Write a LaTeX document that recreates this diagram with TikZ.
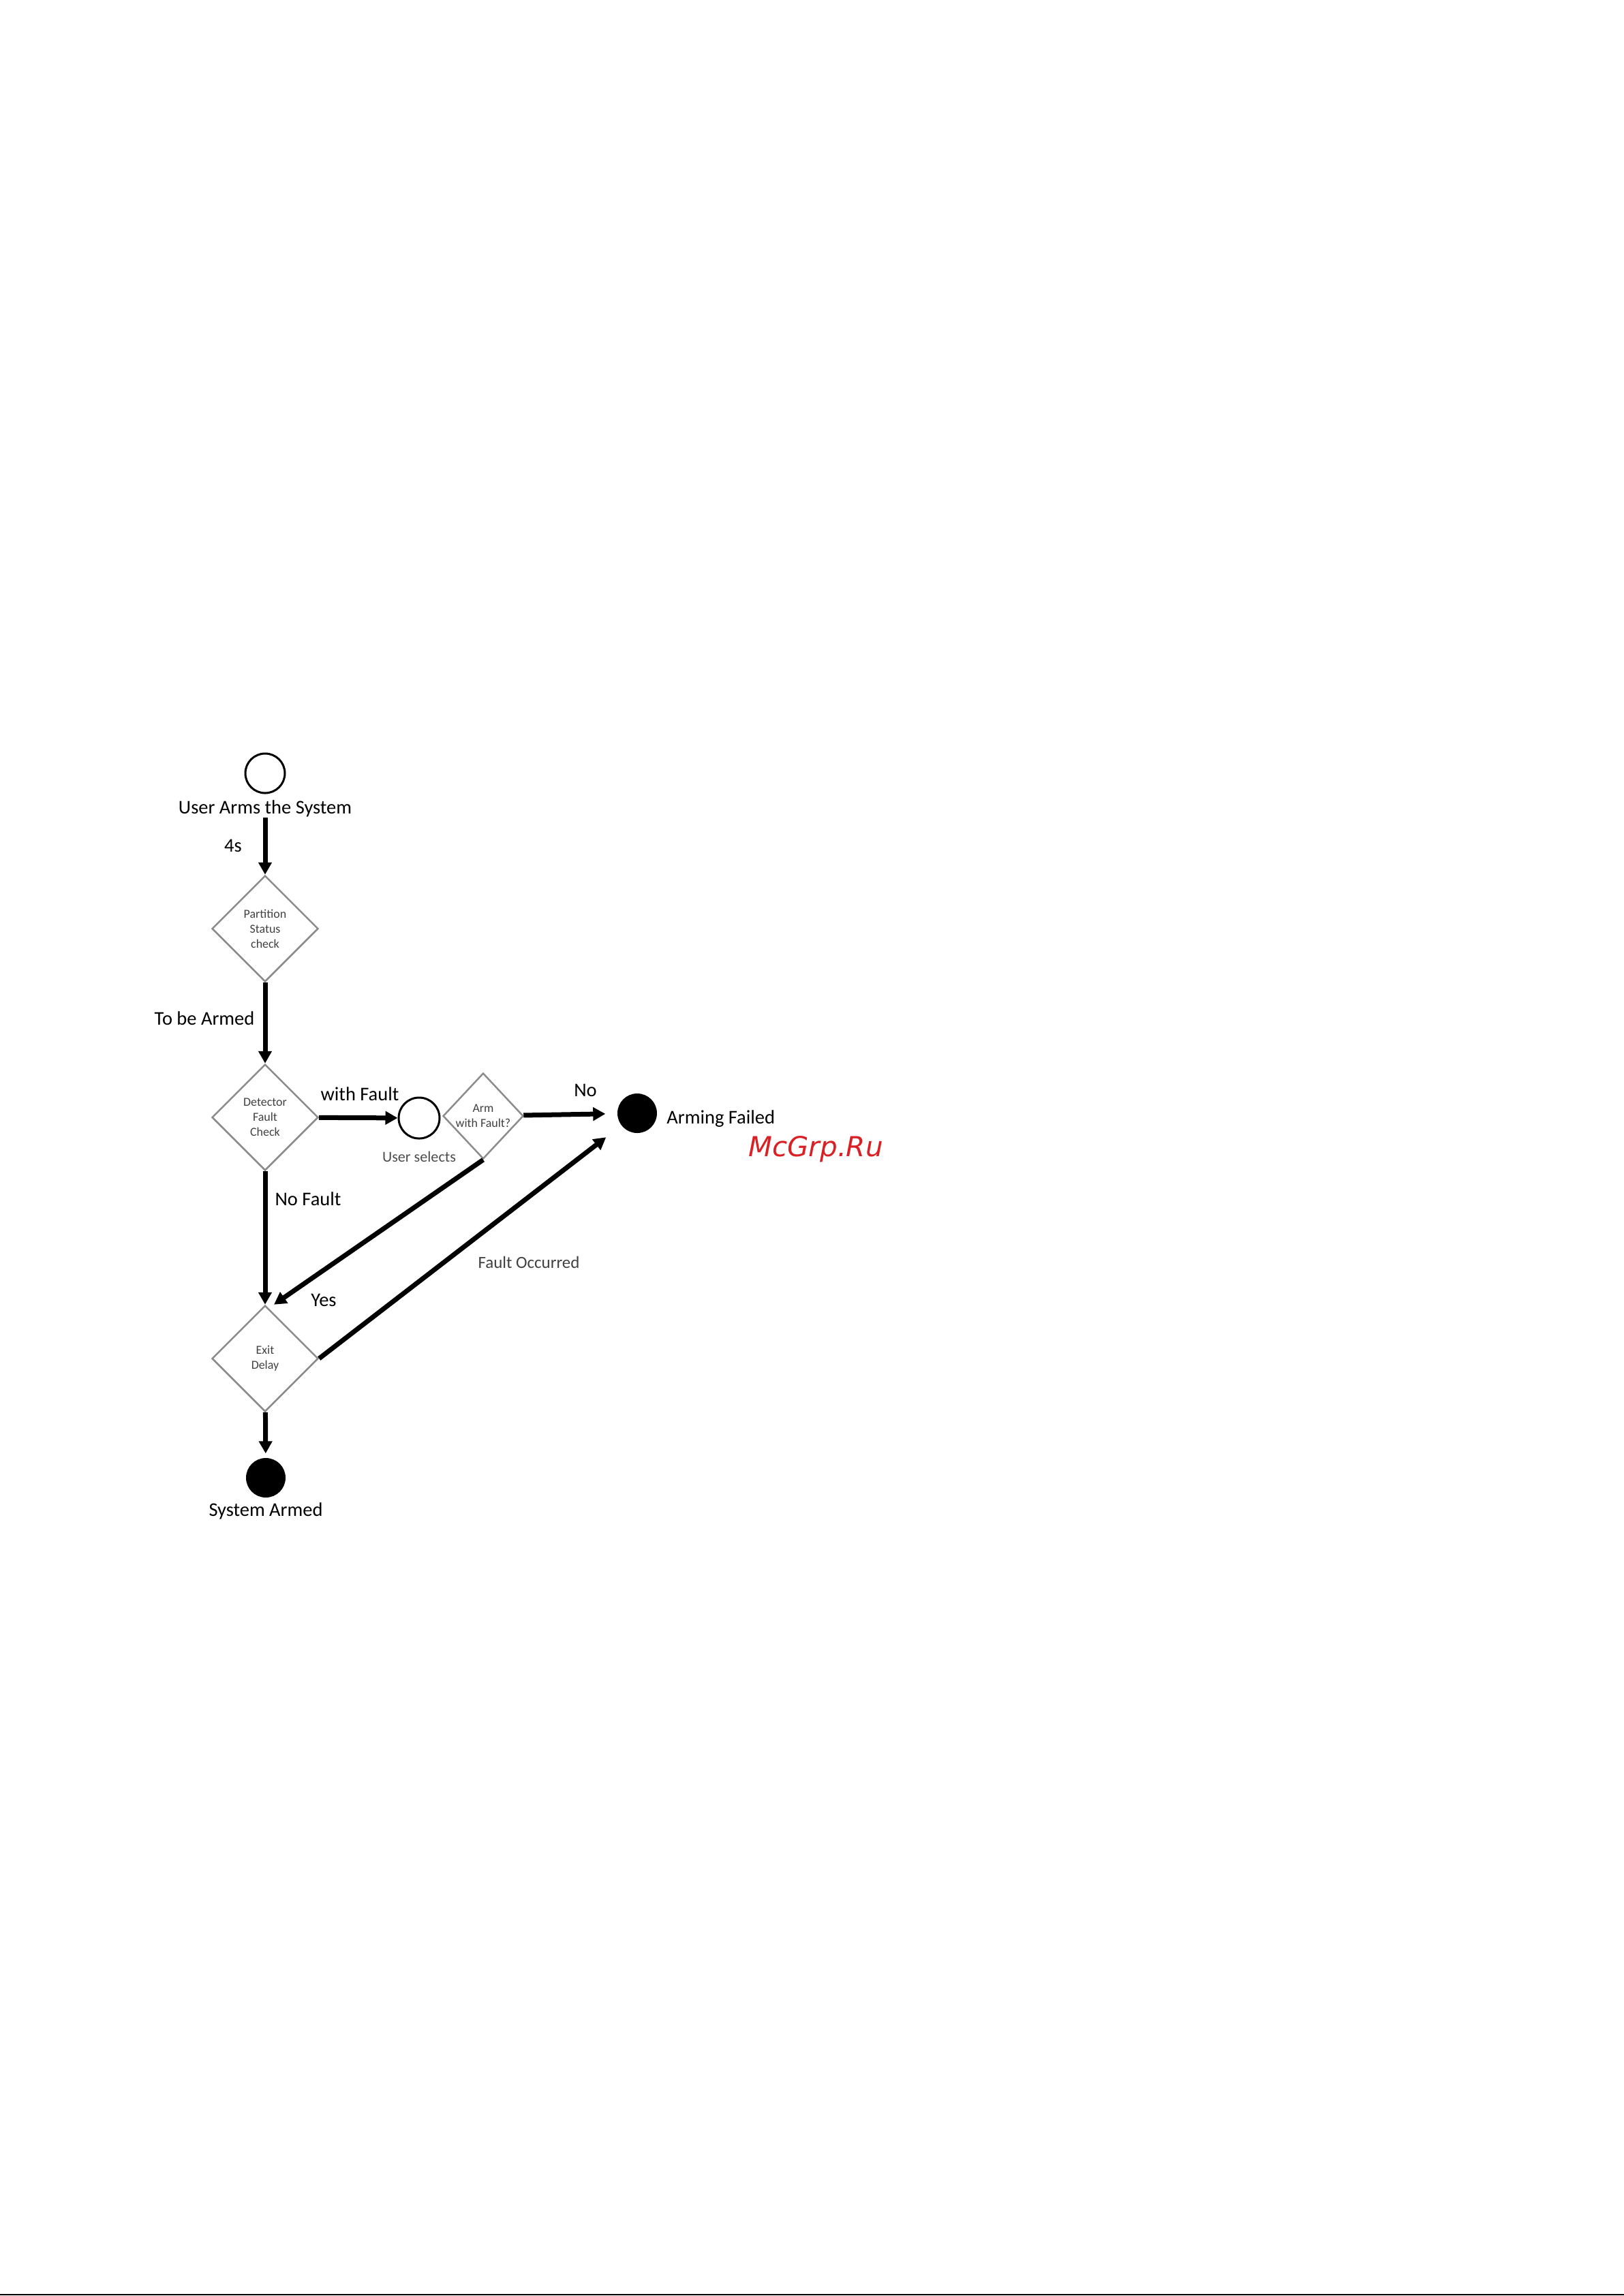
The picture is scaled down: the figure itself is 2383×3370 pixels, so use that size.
\documentclass[tikz,border=0pt]{standalone}
\usepackage{fontspec}
\setmainfont{Carlito}
\newfontfamily\wmfont{DejaVu Sans}
\usetikzlibrary{arrows.meta, positioning, shapes.geometric}
\definecolor{wmred}{RGB}{218,32,36}
\newcommand{\bigtxt}{\fontsize{8.1pt}{9.7pt}\selectfont}
\newcommand{\smalltxt}{\fontsize{5.1pt}{6.3pt}\selectfont}
\tikzstyle{decision} = [diamond, draw=black!45, line width=0.25mm,
  minimum width=15.6mm, minimum height=15.6mm, inner sep=0pt,
  align=center, text=black!75, font=\smalltxt]
\tikzstyle{state} = [circle, draw, line width=0.3mm, minimum size=5.8mm, inner sep=0pt]
\tikzstyle{final} = [circle, fill=black, minimum size=5.8mm, inner sep=0pt]
\tikzstyle{tag} = [inner sep=0pt, font=\bigtxt]
\tikzstyle{arrow} = [line width=0.7mm, -{Triangle[length=1.8mm, width=1.9mm]}]

\begin{document}
\begin{tikzpicture}[x=0.1mm, y=-0.1mm]
    \useasboundingbox (0,0) rectangle (2383,3370);
    \node[state] (start) at (389,1135) {};
    \node[tag, below=0.9mm of start] (startlbl) {User Arms the System};
    \node[decision] (part) at (389,1363) {Partition\\Status\\check};
    \node[decision] (detect) at (389,1640) {Detector\\Fault\\Check};
    \node[state, minimum size=6mm] (sel) at (615,1641) {};
    \node[tag, font=\fontsize{6.3pt}{7.5pt}\selectfont, text=black!70] (sellbl) at (615,1698) {User selects};
    \node[decision, minimum width=11.8mm, minimum height=12.6mm] (armq) at (709,1638) {Arm\\with Fault?};
    \node[final] (fail) at (935,1634) {};
    \node[tag, right=1.3mm of fail, yshift=-0.8mm] (faillbl) {Arming Failed};
    \node[decision] (exit) at (389,1994) {Exit\\Delay};
    \node[final] (done) at (390,2169) {};
    \node[tag, below=0.6mm of done] (donelbl) {System Armed};
    \node[tag] (l4s) at (342,1241) {4s};
    \node[tag] (ltobe) at (300,1495) {To be Armed};
    \node[tag] (lwith) at (528,1606) {with Fault};
    \node[tag] (lno) at (859,1600) {No};
    \node[tag] (lnofault) at (452,1760) {No Fault};
    \node[tag] (lyes) at (475,1908) {Yes};
    \node[tag, font=\fontsize{7.1pt}{8.5pt}\selectfont, text=black!75] (lfault) at (776,1853) {Fault Occurred};
    \node[inner sep=0pt, text=wmred, font={\wmfont\fontsize{11.5pt}{13pt}\selectfont\itshape}] (wm) at (1197,1687) {McGrp.Ru};
    \draw[arrow] (startlbl) -- (part);
    \draw[arrow] (part) -- (detect);
    \draw[arrow] (detect) -- (sel);
    \draw[arrow, shorten >=1.7mm] (armq) -- (fail);
    \draw[arrow] (detect) -- (exit);
    \draw[arrow] (armq.south) -- ([xshift=1.3mm]exit.north);
    \draw[arrow, shorten >=2.8mm] (exit.east) -- (fail);
    \draw[arrow, shorten >=0.6mm] (exit) -- (done);
    \draw[line width=0.25mm] (0,3368) -- (2383,3368);
  \end{tikzpicture}
\end{document}
